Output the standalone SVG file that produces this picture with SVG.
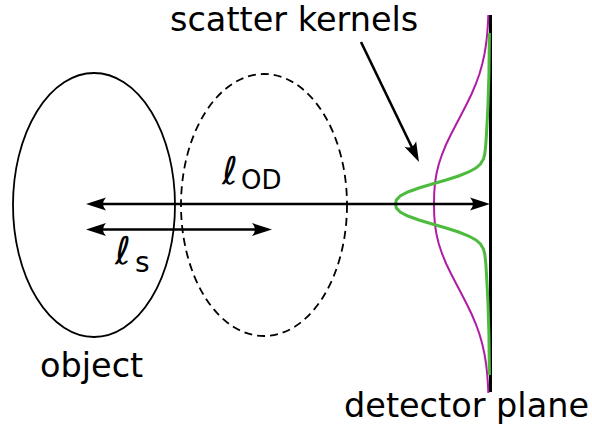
<svg xmlns="http://www.w3.org/2000/svg" width="592" height="428" viewBox="0 0 592 428">
<style>
text{font-family:"DejaVu Sans",sans-serif;fill:#000}
.lbl{font-size:33.5px}
.ell{fill:none;stroke:#000;stroke-width:1.8}
.arr{fill:none;stroke:#000;stroke-width:2.6}
</style>
<defs>
<marker id="ah" markerUnits="userSpaceOnUse" orient="auto-start-reverse" refX="0" refY="0" markerWidth="30" markerHeight="20" overflow="visible">
<path d="M5,0 L-15,-6.5 Q-9,0 -15,6.5 Z" fill="#000"/>
</marker>
</defs>
<rect width="592" height="428" fill="#fff"/>
<g id="object">
<ellipse class="ell" cx="94" cy="205" rx="81" ry="132"/>
<text class="lbl" x="40" y="377">object</text>
</g>
<g id="moved-object">
<ellipse class="ell" cx="264" cy="205" rx="83" ry="131" stroke-dasharray="8,5"/>
</g>
<g id="detector">
<line x1="490.5" y1="15" x2="490.5" y2="392" stroke="#000" stroke-width="3"/>
<text class="lbl" x="344" y="417">detector plane</text>
</g>
<g id="kernels">
<path fill="none" stroke="#b01ca3" stroke-width="2" d="M488.36,15 L487.93,24 L487.19,34 L486.08,44 L484.48,54 L482.28,64 L479.42,74 L475.83,84 L471.58,94 L466.71,104 L461.59,114 L456.35,124 L451.15,134 L446.29,144 L442.17,154 L438.83,164 L436.41,174 L434.89,184 L434.17,194 L434,204 L434.17,214 L434.89,224 L436.41,234 L438.83,244 L442.17,254 L446.29,264 L451.15,274 L456.35,284 L461.59,294 L466.71,304 L471.58,314 L475.83,324 L479.42,334 L482.28,344 L484.48,354 L486.08,364 L487.19,374 L487.93,384 L488.36,393"/>
<path fill="none" stroke="#4dbb3d" stroke-width="3" d="M489.4,33 L488.93,74 L488,104 L487.3,119 L486.46,134 L485.84,144 L484.81,154 L483.45,159 L480.42,164 L475.89,168 L468.7,172 L458.62,176 L446.08,180 L432.24,184 L418.9,188 L407.8,192 L400.19,196 L396.35,200 L395.5,204 L396.35,208 L400.19,212 L407.8,216 L418.9,220 L432.24,224 L446.08,228 L458.62,232 L468.7,236 L475.89,240 L480.42,244 L483.45,249 L484.81,254 L485.84,264 L486.46,274 L487.3,289 L488,304 L488.93,334 L489.4,375"/>
<text class="lbl" x="170" y="31">scatter kernels</text>
</g>
<g id="labels">
<text x="222" y="184" font-size="38">ℓ<tspan x="241" y="189" font-size="26">OD</tspan></text>
<text x="115" y="264" font-size="38">ℓ<tspan x="135" y="272" font-size="28">s</tspan></text>
</g>
<g id="connectors">
<line class="arr" x1="91" y1="204" x2="485" y2="204" marker-start="url(#ah)" marker-end="url(#ah)"/>
<line class="arr" x1="91" y1="229.5" x2="267" y2="229.5" marker-start="url(#ah)" marker-end="url(#ah)"/>
<line class="arr" x1="361" y1="42" x2="416.8" y2="157.5" marker-end="url(#ah)"/>
</g>
</svg>
